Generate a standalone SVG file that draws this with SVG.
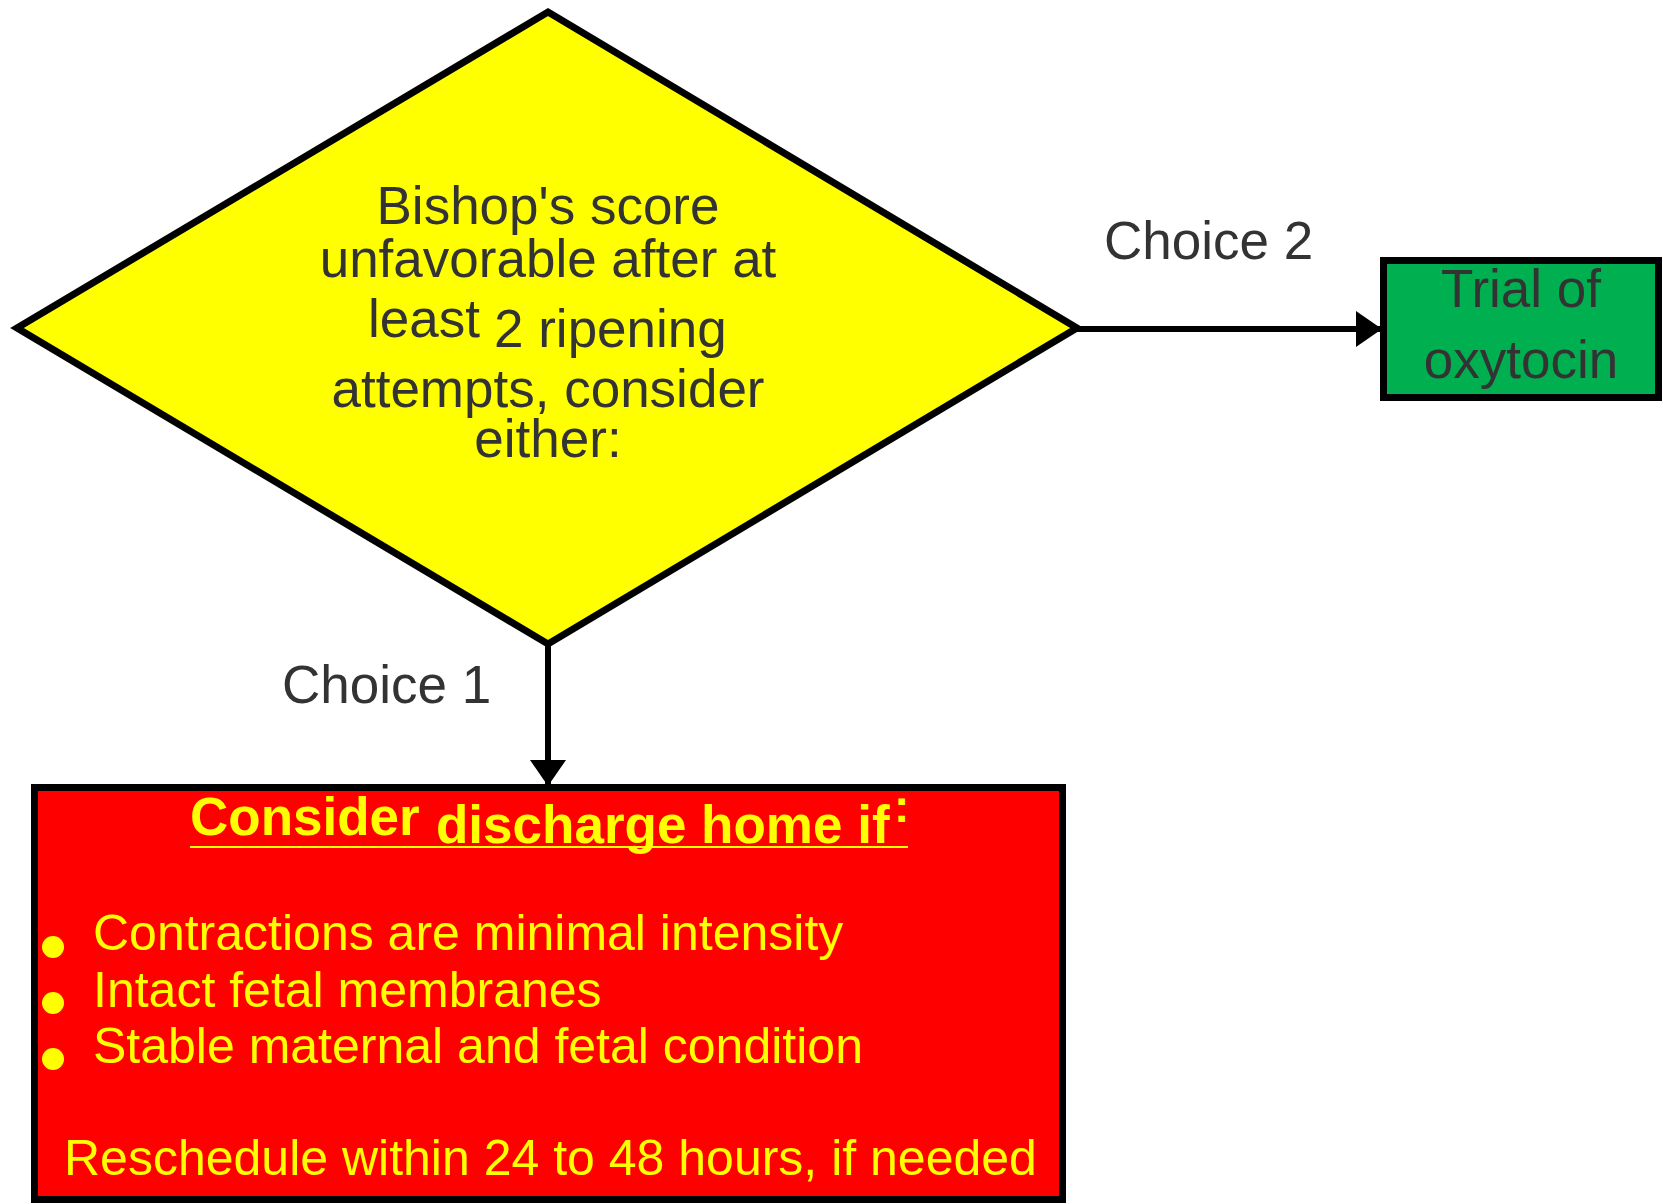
<svg xmlns="http://www.w3.org/2000/svg" width="1663" height="1204" viewBox="0 0 1663 1204">
<style>
.dark{font-family:"Liberation Sans",Arial,sans-serif;fill:#333333;font-size:53px}
.lbl{font-family:"Liberation Sans",Arial,sans-serif;fill:#333333;font-size:53px}
.yel{font-family:"Liberation Sans",Arial,sans-serif;fill:#FFFF00;font-size:50px}
.ttl{font-family:"Liberation Sans",Arial,sans-serif;fill:#FFFF00;font-size:53px;font-weight:bold}
.edge{stroke:#000;stroke-width:6;fill:none}
</style>
<defs>
<marker id="ah" markerUnits="userSpaceOnUse" markerWidth="26" markerHeight="36" refX="26" refY="18" orient="auto">
<path d="M0,0 L26,18 L0,36 Z" fill="#000"/>
</marker>
</defs>
<rect width="1663" height="1204" fill="#fff"/>
<g id="connectors">
<line class="edge" x1="1077" y1="329" x2="1382" y2="329" marker-end="url(#ah)"/>
<line class="edge" x1="548" y1="644" x2="548" y2="786" marker-end="url(#ah)"/>
<text class="lbl" x="1104" y="259">Choice 2</text>
<text class="lbl" x="282" y="703">Choice 1</text>
</g>
<g id="decision">
<polygon points="548,12 1077,328 548,644 17,328" fill="#FFFF00" stroke="#000" stroke-width="7" stroke-linejoin="miter"/>
<text class="dark" x="548" y="224" text-anchor="middle">Bishop's score</text>
<text class="dark" x="548" y="277" text-anchor="middle">unfavorable after at</text>
<text class="dark" x="368" y="337">least</text>
<text class="dark" x="494" y="347">2 ripening</text>
<text class="dark" x="548" y="407" text-anchor="middle">attempts, consider</text>
<text class="dark" x="548" y="457" text-anchor="middle">either:</text>
</g>
<g id="oxytocin">
<rect x="1383.5" y="260.5" width="275" height="137" fill="#00B050" stroke="#000" stroke-width="7"/>
<text class="dark" x="1521" y="307" text-anchor="middle">Trial of</text>
<text class="dark" x="1521" y="378" text-anchor="middle">oxytocin</text>
</g>
<g id="discharge">
<rect x="34.5" y="787.5" width="1028" height="412" fill="#FF0000" stroke="#000" stroke-width="7"/>
<text class="ttl" x="190" y="835">Consider</text>
<text class="ttl" x="436" y="843">discharge home if</text>
<text class="ttl" x="894" y="822" style="font-size:46px">:</text>
<line x1="190" y1="847" x2="908" y2="847" stroke="#FFFF00" stroke-width="2"/>
<circle cx="53" cy="947" r="11" fill="#FFFF00"/>
<circle cx="53" cy="1003" r="11" fill="#FFFF00"/>
<circle cx="53" cy="1059" r="11" fill="#FFFF00"/>
<text class="yel" x="93" y="950">Contractions are minimal intensity</text>
<text class="yel" x="93" y="1007">Intact fetal membranes</text>
<text class="yel" x="93" y="1063">Stable maternal and fetal condition</text>
<text class="yel" x="64" y="1175">Reschedule within 24 to 48 hours, if needed</text>
</g>
</svg>
